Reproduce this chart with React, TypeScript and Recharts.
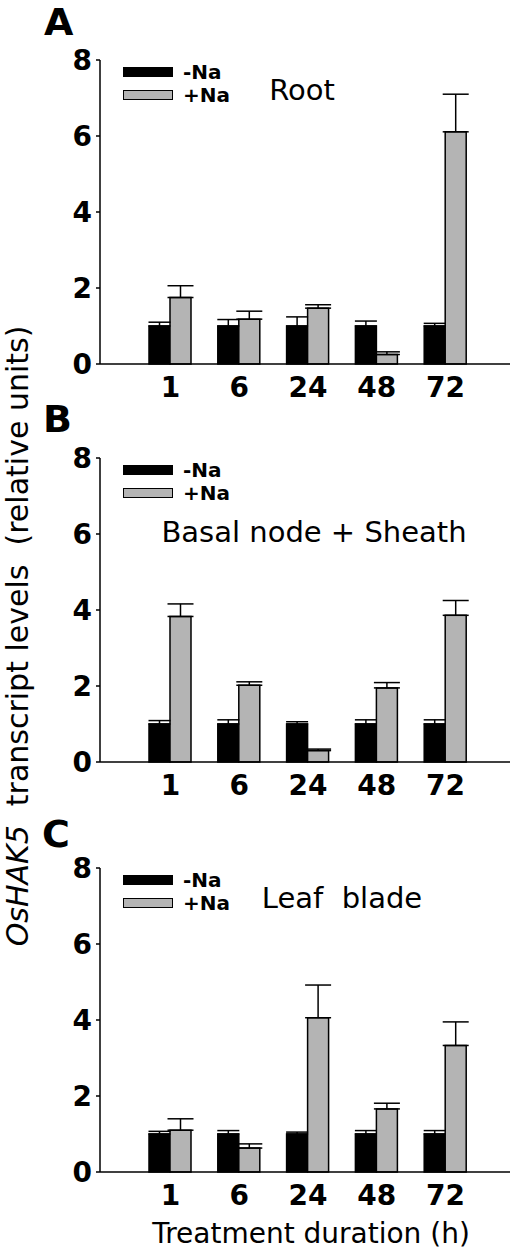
import React from 'react';
import { BarChart, Bar, XAxis, YAxis, ErrorBar, Legend } from 'recharts';

// sampling times (h)
const hours = ['1', '6', '24', '48', '72'];

// A: root
const rootMinus = [1, 1, 1, 1, 1];
const rootMinusErr = [0.1, 0.17, 0.24, 0.13, 0.07];
const rootPlus = [1.75, 1.18, 1.47, 0.25, 6.11];
const rootPlusErr = [0.31, 0.21, 0.09, 0.07, 0.99];

// B: basal node + sheath
const sheathMinus = [1, 1, 1, 1, 1];
const sheathMinusErr = [0.09, 0.11, 0.06, 0.11, 0.11];
const sheathPlus = [3.83, 2.02, 0.3, 1.95, 3.86];
const sheathPlusErr = [0.33, 0.09, 0.04, 0.14, 0.39];

// C: leaf blade
const bladeMinus = [1, 1, 1, 1, 1];
const bladeMinusErr = [0.07, 0.09, 0.05, 0.09, 0.09];
const bladePlus = [1.1, 0.63, 4.06, 1.66, 3.33];
const bladePlusErr = [0.3, 0.11, 0.86, 0.15, 0.62];

const yTicks = [0, 2, 4, 6, 8];

const FONT = '"DejaVu Sans", Arial, sans-serif';
const GRAY = '#b4b4b4';

function buildRows(minus: number[], minusErr: number[], plus: number[], plusErr: number[]) {
  // errors are drawn upward only
  return hours.map((h, i) => ({
    h,
    minus: minus[i],
    minusErr: [0, minusErr[i]],
    plus: plus[i],
    plusErr: [0, plusErr[i]],
  }));
}

const LegendBox = (props: any) => {
  const items = props.payload || [];
  return (
    <div style={{ fontFamily: FONT }}>
      {items.map((it: any) => (
        <div key={it.value} style={{ display: 'flex', alignItems: 'center', height: 23.5 }}>
          <span
            style={{
              display: 'inline-block',
              width: 50,
              height: 10,
              boxSizing: 'border-box',
              background: it.color,
              border: '1.5px solid #000',
            }}
          />
          <span style={{ marginLeft: 10, fontSize: 20, fontWeight: 'bold', color: '#000' }}>{it.value}</span>
        </div>
      ))}
    </div>
  );
};

function Panel({ rows, top, height, xHeight }: { rows: any[]; top: number; height: number; xHeight: number }) {
  return (
    <div style={{ position: 'absolute', left: 0, top }}>
      <BarChart
        width={520}
        height={height}
        data={rows}
        margin={{ top: 60, right: 10, left: 0, bottom: 0 }}
        barGap={0}
        barSize={21}
      >
        <XAxis
          dataKey="h"
          height={xHeight}
          tickLine={false}
          tickSize={0}
          tickMargin={13}
          padding={{ left: 36, right: 30 }}
          axisLine={{ stroke: '#000', strokeWidth: 1.5 }}
          tick={{ fontSize: 28, fontWeight: 'bold', fill: '#000', fontFamily: FONT }}
        />
        <YAxis
          width={100}
          domain={[0, 8]}
          ticks={yTicks}
          tickSize={4}
          tickMargin={4}
          axisLine={{ stroke: '#000', strokeWidth: 1.5 }}
          tickLine={{ stroke: '#000', strokeWidth: 1.5 }}
          tick={{ fontSize: 28, fontWeight: 'bold', fill: '#000', fontFamily: FONT }}
        />
        <Legend
          layout="horizontal"
          verticalAlign="middle"
          align="center"
          itemSorter="dataKey"
          content={<LegendBox />}
          wrapperStyle={{ position: 'absolute', left: 123, top: 60, width: 'auto' }}
        />
        <Bar dataKey="minus" name="-Na" fill="#000" stroke="#000" strokeWidth={1.5} isAnimationActive={false}>
          <ErrorBar dataKey="minusErr" width={11} stroke="#000" strokeWidth={1.5} direction="y" />
        </Bar>
        <Bar dataKey="plus" name="+Na" fill={GRAY} stroke="#000" strokeWidth={1.5} isAnimationActive={false}>
          <ErrorBar dataKey="plusErr" width={13} stroke="#000" strokeWidth={1.5} direction="y" />
        </Bar>
      </BarChart>
    </div>
  );
}

export default function App() {
  const rootRows = buildRows(rootMinus, rootMinusErr, rootPlus, rootPlusErr);
  const sheathRows = buildRows(sheathMinus, sheathMinusErr, sheathPlus, sheathPlusErr);
  const bladeRows = buildRows(bladeMinus, bladeMinusErr, bladePlus, bladePlusErr);

  return (
    <div style={{ position: 'absolute', left: 0, top: 0, width: 520, height: 1256, background: '#fff', overflow: 'hidden' }}>
      <Panel rows={rootRows} top={0} height={440} xHeight={76} />
      <Panel rows={sheathRows} top={398} height={440} xHeight={76} />
      <Panel rows={bladeRows} top={808} height={448} xHeight={84} />

      {/* panel letters, titles and shared axis labels */}
      <svg width={520} height={1256} style={{ position: 'absolute', left: 0, top: 0, pointerEvents: 'none' }}>
        <g fontFamily={FONT} fill="#000">
          <text x={44} y={35} fontSize={38} fontWeight="bold">A</text>
          <text x={43} y={432} fontSize={38} fontWeight="bold">B</text>
          <text x={42} y={847} fontSize={38} fontWeight="bold">C</text>

          <text x={302} y={100} fontSize={29} textAnchor="middle">Root</text>
          <text x={314} y={542} fontSize={29} textAnchor="middle">Basal node + Sheath</text>
          <text x={342} y={908} fontSize={29} textAnchor="middle" style={{ whiteSpace: 'pre' }}>Leaf  blade</text>

          <text x={311} y={1243} fontSize={28} textAnchor="middle">Treatment duration (h)</text>

          <text
            x={0}
            y={0}
            fontSize={30}
            textAnchor="middle"
            transform="translate(28 636) rotate(-90)"
            style={{ whiteSpace: 'pre' }}
          >
            <tspan fontStyle="italic">OsHAK5</tspan>
            <tspan>  transcript levels  (relative units)</tspan>
          </text>
        </g>
      </svg>
    </div>
  );
}
